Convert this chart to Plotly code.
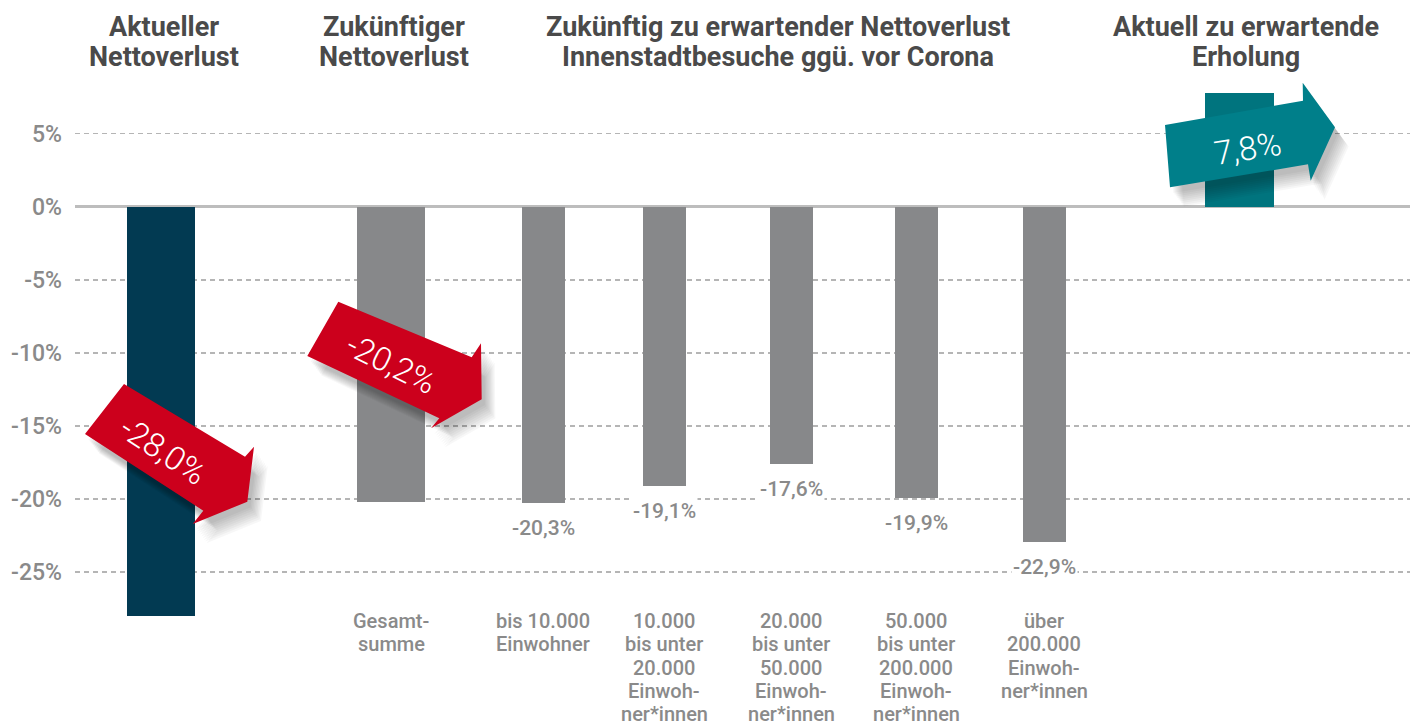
import plotly.graph_objects as go

# ---------------- data ----------------
categories = ["Aktueller Nettoverlust", "Gesamtsumme", "bis 10.000 Einwohner",
              "10.000 bis unter 20.000", "20.000 bis unter 50.000",
              "50.000 bis unter 200.000", "über 200.000", "Aktuell zu erwartende Erholung"]
values = [-28.0, -20.2, -20.3, -19.1, -17.6, -19.9, -22.9, 7.8]
value_labels = ["-28,0%", "-20,2%", "-20,3%", "-19,1%", "-17,6%", "-19,9%", "-22,9%", "7,8%"]
category_labels = [[], ["Gesamt-", "summe"], ["bis 10.000", "Einwohner"],
                   ["10.000", "bis unter", "20.000", "Einwoh-", "ner*innen"],
                   ["20.000", "bis unter", "50.000", "Einwoh-", "ner*innen"],
                   ["50.000", "bis unter", "200.000", "Einwoh-", "ner*innen"],
                   ["über", "200.000", "Einwoh-", "ner*innen"], []]
tick_values = [5, 0, -5, -10, -15, -20, -25]
tick_labels = ["5%", "0%", "-5%", "-10%", "-15%", "-20%", "-25%"]
group_titles = [["Aktueller", "Nettoverlust"], ["Zukünftiger", "Nettoverlust"],
                ["Zukünftig zu erwartender Nettoverlust", "Innenstadtbesuche ggü. vor Corona"],
                ["Aktuell zu erwartende", "Erholung"]]

# ---------------- layout geometry (pixels) ----------------
W, H = 1410, 727
ML, MR, MT, MB = 75, 0, 75, 100
PW, PH = W - ML - MR, H - MT - MB
ZERO_PX, PX_PER_PCT = 206.7, 14.62
Y_TOP = (ZERO_PX - MT) / PX_PER_PCT
Y_BOT = -(MT + PH - ZERO_PX) / PX_PER_PCT

bar_px = [161, 391, 543, 664, 791, 916, 1044, 1239]
bar_w = [68, 68, 43, 43, 43, 43, 43, 69]
bar_colors = ["#023a52", "#87888a", "#87888a", "#87888a", "#87888a", "#87888a", "#87888a", "#00747e"]
title_px = [164, 394, 778, 1246]

def X(px):
    return px - ML

def Y(py):
    return Y_TOP - (py - MT) / PH * (Y_TOP - Y_BOT)

def P(py):
    return (MT + PH - py) / PH

xs = [X(p) for p in bar_px]

fig = go.Figure()
fig.add_trace(go.Bar(x=xs, y=values, width=bar_w, marker_color=bar_colors,
                     marker_line_width=0, hoverinfo="skip", showlegend=False))

GRAY = "#8a8a8a"
FONT = "Roboto, sans-serif"

annotations = []
# value labels for the gray population-size bars
for i in range(2, 7):
    annotations.append(dict(x=xs[i], y=values[i], xref="x", yref="y", text=value_labels[i],
                            showarrow=False, yanchor="middle", yshift=-25, bgcolor="white",
                            borderpad=1,
                            font=dict(family=FONT, size=21, color=GRAY, weight=500)))
# category labels, one line per annotation for tight spacing
for i, lines in enumerate(category_labels):
    for j, line in enumerate(lines):
        annotations.append(dict(x=xs[i], y=P(621 + j * 23.3), xref="x", yref="paper", text=line,
                                showarrow=False, yanchor="middle", align="center",
                                font=dict(family=FONT, size=20, color=GRAY, weight=500)))
# group titles
for lines, px in zip(group_titles, title_px):
    for j, line in enumerate(lines):
        annotations.append(dict(x=X(px), y=P(27 + j * 30), xref="x", yref="paper",
                                text="<b>" + line + "</b>", showarrow=False, yanchor="middle",
                                align="center",
                                font=dict(family=FONT, size=27, color="#4a4a4a")))

# ---------------- callout arrows ----------------
arrows = [
    # (bar index, anchor y px, polygon offsets, text offset, angle, color)
    (0, 450, [(-37, -66), (84, 6.7), (93, -3.3), (86.3, 51.7), (31.7, 74), (42.3, 60.7), (-76, -16)],
     (2, 0), 33, "#cc001c"),
    (1, 363, [(-52.7, -61.3), (80.7, -5.7), (90, -19.7), (90.7, 36.3), (40, 65.3), (48.3, 55.3), (-83.7, -7)],
     (0, 0), 26, "#cc001c"),
    (7, 152, [(-74, -27), (64, -51.3), (63.7, -69.3), (96, -24.7), (71.7, 28.7), (69, 12.3), (-69, 35.3)],
     (8, -4), -9, "#007f8a"),
]
shapes = []
for bi, ay, poly, toff, ang, col in arrows:
    cx = bar_px[bi]
    # soft shadow
    for k in range(1, 10):
        sh = [(cx + dx + 2 + k * 1.3, ay + dy + 4 + k * 1.7) for dx, dy in poly]
        path = "M " + " L ".join(f"{X(a)},{Y(b)}" for a, b in sh) + " Z"
        shapes.append(dict(type="path", path=path, xref="x", yref="y", line_width=0,
                           fillcolor="rgba(0,0,0,0.03)", layer="above"))
    pts = [(cx + dx, ay + dy) for dx, dy in poly]
    path = "M " + " L ".join(f"{X(a)},{Y(b)}" for a, b in pts) + " Z"
    shapes.append(dict(type="path", path=path, xref="x", yref="y", line_width=0,
                       fillcolor=col, layer="above"))
    annotations.append(dict(x=X(cx + toff[0]), y=Y(ay + toff[1]), xref="x", yref="y",
                            text=value_labels[bi], showarrow=False, textangle=ang,
                            font=dict(family=FONT, size=33, color="white", weight=300)))

fig.update_layout(
    width=W, height=H, margin=dict(l=ML, r=MR, t=MT, b=MB),
    plot_bgcolor="white", paper_bgcolor="white",
    xaxis=dict(range=[0, PW], showgrid=False, zeroline=False, showticklabels=False,
               fixedrange=True),
    yaxis=dict(range=[Y_BOT, Y_TOP], tickvals=tick_values, ticktext=tick_labels,
               showgrid=True, gridcolor="#b5b5b5", gridwidth=1.5, griddash="5px,4px",
               zeroline=True, zerolinecolor="#bdbdbd", zerolinewidth=2.5,
               tickfont=dict(family=FONT, size=23, color=GRAY, weight=500), ticklabelstandoff=12,
               fixedrange=True),
    annotations=annotations, shapes=shapes, bargap=0,
)

fig.write_html("out.html", config={"displayModeBar": False, "staticPlot": True},
               post_script="document.body.style.margin='0';document.body.style.overflow='hidden';")
